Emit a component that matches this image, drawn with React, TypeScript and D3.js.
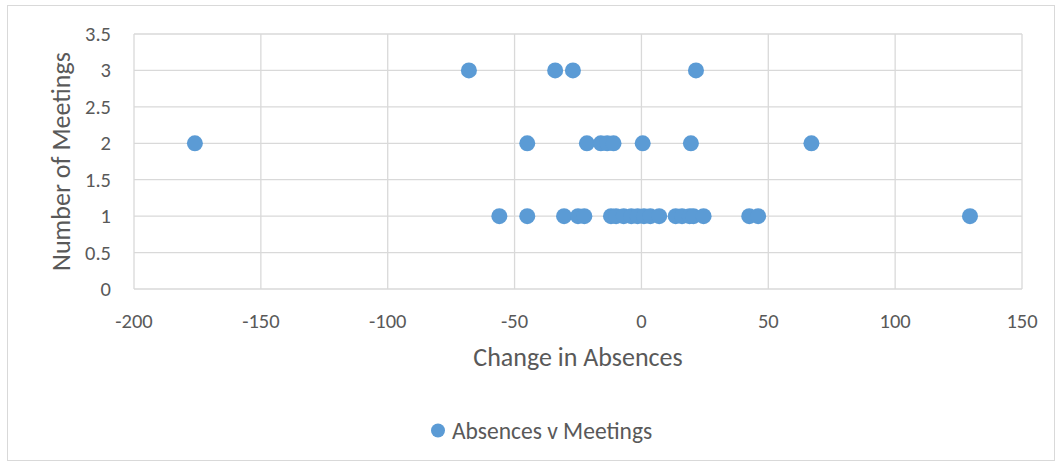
import React from "react";
import * as d3 from "d3";

const changeInAbsences: number[] = [
  -68, -34, -27, 21.5,
  -176, -45, -21.5, -16, -13.5, -11, 0.5, 19.5, 67,
  -56, -45, -30.5, -25, -22.5, -12, -10, -7, -4, -1.5, 1, 3.5, 7, 13.5, 16, 19, 20.5, 24.5, 42.5, 46, 129.5,
];
const numberOfMeetings: number[] = [
  3, 3, 3, 3,
  2, 2, 2, 2, 2, 2, 2, 2, 2,
  1, 1, 1, 1, 1, 1, 1, 1, 1, 1, 1, 1, 1, 1, 1, 1, 1, 1, 1, 1, 1,
];
const xTicks: number[] = [-200, -150, -100, -50, 0, 50, 100, 150];
const yTicks: number[] = [0, 0.5, 1, 1.5, 2, 2.5, 3, 3.5];
const seriesName = "Absences v Meetings";
const xTitle = "Change in Absences";
const yTitle = "Number of Meetings";

const W = 1061;
const H = 465;
const FONT = "Carlito, Calibri, Lato, sans-serif";
const TEXT = "#595959";
const GRID = "#d9d9d9";
const BLUE = "#5b9bd5";

export default function App() {
  const x = d3.scaleLinear().domain([-200, 150]).range([134, 1022]);
  const y = d3.scaleLinear().domain([0, 3.5]).range([289, 34]);
  const pts = changeInAbsences.map((v, i) => ({ x: v, y: numberOfMeetings[i] }));
  return (
    <svg
      width={W}
      height={H}
      style={{ position: "absolute", left: 0, top: 0, background: "#fff" }}
      fontFamily={FONT}
    >
      <rect x={7.5} y={5.5} width={1047} height={455} fill="#fff" stroke="#d9d9d9" />
      {xTicks.map((t) => (
        <line key={"gx" + t} x1={x(t)} x2={x(t)} y1={y(0)} y2={y(3.5)} stroke={GRID} strokeWidth={1.3} />
      ))}
      {yTicks.map((t) => (
        <line key={"gy" + t} x1={x(-200)} x2={x(150)} y1={y(t)} y2={y(t)} stroke={GRID} strokeWidth={1.3} />
      ))}
      {xTicks.map((t) => (
        <text key={"tx" + t} x={x(t)} y={321} textAnchor="middle" dominantBaseline="central" fontSize={20.5} fill={TEXT}>
          {t}
        </text>
      ))}
      {yTicks.map((t) => (
        <text key={"ty" + t} x={111} y={y(t)} textAnchor="end" dominantBaseline="central" fontSize={20.5} fill={TEXT}>
          {t}
        </text>
      ))}
      <text x={578} y={357} textAnchor="middle" dominantBaseline="central" fontSize={26} fill={TEXT}>
        {xTitle}
      </text>
      <text
        transform={`translate(61, ${(y(0) + y(3.5)) / 2}) rotate(-90)`}
        textAnchor="middle"
        dominantBaseline="central"
        fontSize={26}
        fill={TEXT}
      >
        {yTitle}
      </text>
      {pts.map((p, i) => (
        <circle key={i} cx={x(p.x)} cy={y(p.y)} r={8} fill={BLUE} />
      ))}
      <circle cx={438} cy={430.5} r={7} fill={BLUE} />
      <text x={452} y={430.5} dominantBaseline="central" fontSize={23.5} fill={TEXT}>
        {seriesName}
      </text>
    </svg>
  );
}
